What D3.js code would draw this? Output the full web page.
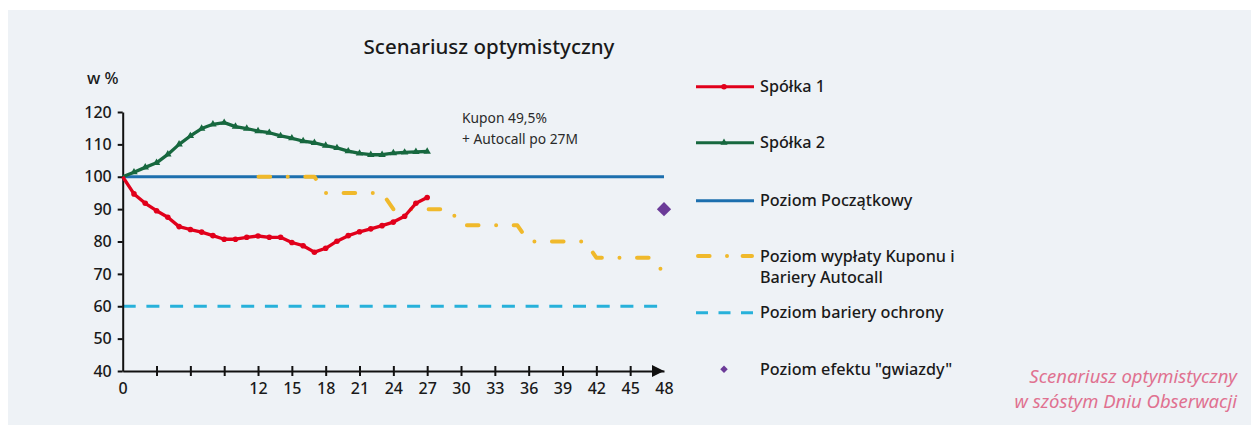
<!DOCTYPE html>
<html>
<head>
<meta charset="utf-8">
<script src="https://cdn.jsdelivr.net/npm/d3@7"></script>
<style>
  body { margin: 0; background: #ffffff; }
  svg { display: block; font-family: "Noto Sans", "Open Sans", sans-serif; }
</style>
</head>
<body>
<svg id="chart"></svg>
<script>
// values, by month
const spolka1 = [100, 94.7, 91.8, 89.5, 87.5, 84.6, 83.7, 82.9, 81.8, 80.7, 80.7, 81.3, 81.7, 81.3,
  81.3, 79.7, 78.7, 76.7, 77.9, 80.1, 81.8, 83, 83.9, 84.9, 86, 87.8, 91.8, 93.6];
const spolka2 = [100, 101.4, 102.9, 104.3, 106.9, 110, 112.6, 114.9, 116.2, 116.7, 115.5, 114.9, 114.1,
  113.6, 112.6, 111.9, 111, 110.5, 109.6, 108.9, 107.9, 107.2, 106.8, 106.8, 107.3, 107.5, 107.7, 107.8];
const kuponStart = 12;
const kupon = [100, 100, 100, 100, 100, 100, 95, 95, 95, 95, 95, 95, 90, 90, 90, 90, 90, 90,
  85, 85, 85, 85, 85, 85, 80, 80, 80, 80, 80, 80, 75, 75, 75, 75, 75, 75, 70];
const poczatkowy = 100;
const ochrona = 60;
const gwiazda = [{m: 48, v: 90}];
const xTicks = d3.range(0, 49, 3);
const xLabels = [0, 12, 15, 18, 21, 24, 27, 30, 33, 36, 39, 42, 45, 48];
const yTicks = [40, 50, 60, 70, 80, 90, 100, 110, 120];
const legendItems = ["Spółka 1", "Spółka 2", "Poziom Początkowy",
  ["Poziom wypłaty Kuponu i", "Bariery Autocall"], "Poziom bariery ochrony", "Poziom efektu \"gwiazdy\""];

const width = 1251, height = 425;
const cRed = "#e1001b", cGreen = "#17683f", cBlue = "#1c6fae", cCyan = "#27b1da",
  cYellow = "#f0b92b", cPurple = "#6b3b98";

const svg = d3.select("#chart").attr("width", width).attr("height", height);

svg.append("rect").attr("x", 8).attr("y", 10).attr("width", width - 8).attr("height", height - 10)
  .attr("fill", "#eef2f6");

const x = d3.scaleLinear().domain([0, 48]).range([122.7, 664]);
const y = d3.scaleLinear().domain([40, 120]).range([371, 112]);

// title
svg.append("text").attr("x", 489).attr("y", 54).attr("text-anchor", "middle")
  .attr("font-size", 20.5).attr("font-weight", 500).attr("fill", "#1a1a1a")
  .text("Scenariusz optymistyczny");
svg.append("text").attr("x", 87).attr("y", 84)
  .attr("font-size", 16.5).attr("font-weight", 500).attr("fill", "#1a1a1a").text("w %");

// reference lines
svg.append("line").attr("x1", x(0)).attr("x2", x(48)).attr("y1", y(ochrona)).attr("y2", y(ochrona))
  .attr("stroke", cCyan).attr("stroke-width", 3).attr("stroke-dasharray", "13,10.7");
svg.append("line").attr("x1", x(0)).attr("x2", x(48)).attr("y1", y(poczatkowy)).attr("y2", y(poczatkowy))
  .attr("stroke", cBlue).attr("stroke-width", 3);

// coupon / autocall level
const kLine = d3.line().x((d, i) => x(kuponStart + i)).y(d => y(d));
svg.append("path").attr("d", kLine(kupon)).attr("fill", "none")
  .attr("stroke", cYellow).attr("stroke-width", 4).attr("stroke-linecap", "round")
  .attr("stroke-linejoin", "round").attr("stroke-dasharray", "11.6,17.6,0,17.55")
  .attr("stroke-dashoffset", -0.5);

// axes
const yAxis = d3.axisLeft(y).tickValues(yTicks).tickSize(5).tickSizeOuter(0).tickPadding(6);
const gy = svg.append("g").attr("transform", `translate(${x(0)},0)`).call(yAxis);
gy.select(".domain").attr("stroke", "#111").attr("stroke-width", 2);
gy.selectAll(".tick line").attr("stroke", "#111").attr("stroke-width", 2);
gy.selectAll(".tick text").attr("font-size", 16).attr("font-weight", 500).attr("fill", "#1a1a1a")
  .attr("font-family", "'Noto Sans', sans-serif");

const xAxis = d3.axisBottom(x).tickValues(xTicks).tickSize(0).tickSizeOuter(0)
  .tickFormat(d => xLabels.includes(d) ? d : "");
const gx = svg.append("g").attr("transform", `translate(0,${y(40)})`).call(xAxis);
gx.select(".domain").attr("stroke", "#111").attr("stroke-width", 2);
gx.selectAll(".tick line").attr("y1", -5).attr("y2", 5).attr("stroke", "#111").attr("stroke-width", 2)
  .filter(d => d === 0 || d === 48).remove();
gx.selectAll(".tick text").attr("y", 12).attr("font-size", 16).attr("font-weight", 500)
  .attr("fill", "#1a1a1a").attr("font-family", "'Noto Sans', sans-serif");
svg.append("path")
  .attr("d", `M${x(48) - 12},${y(40) - 6}L${x(48)},${y(40)}L${x(48) - 12},${y(40) + 6}Z`)
  .attr("fill", "#111");

// company series
const line = d3.line().x((d, i) => x(i)).y(d => y(d));
svg.append("path").attr("d", line(spolka2)).attr("fill", "none").attr("stroke", cGreen)
  .attr("stroke-width", 3.3).attr("stroke-linejoin", "round");
svg.append("g").selectAll("path").data(spolka2.slice(1)).join("path")
  .attr("d", d3.symbol(d3.symbolTriangle, 24))
  .attr("transform", (d, i) => `translate(${x(i + 1)},${y(d)})`).attr("fill", cGreen);

svg.append("path").attr("d", line(spolka1)).attr("fill", "none").attr("stroke", cRed)
  .attr("stroke-width", 3.3).attr("stroke-linejoin", "round");
svg.append("g").selectAll("circle").data(spolka1.slice(1)).join("circle")
  .attr("cx", (d, i) => x(i + 1)).attr("cy", d => y(d)).attr("r", 2.8).attr("fill", cRed);

svg.selectAll(".star").data(gwiazda).join("path").attr("class", "star")
  .attr("d", d3.symbol(d3.symbolDiamond2, 130))
  .attr("transform", d => `translate(${x(d.m)},${y(d.v)})`).attr("fill", cPurple);

// annotation
const ann = svg.append("text").attr("font-size", 13.8).attr("fill", "#2a2a2a");
ann.append("tspan").attr("x", 462).attr("y", 123).text("Kupon 49,5%");
ann.append("tspan").attr("x", 462).attr("y", 144).text("+ Autocall po 27M");

// legend
const lx0 = 696, lx1 = 754, tx = 760;
const ly = [86.7, 142.7, 200.7, 256, 312.7, 369.3];
svg.append("line").attr("x1", lx0).attr("x2", lx1).attr("y1", ly[0]).attr("y2", ly[0])
  .attr("stroke", cRed).attr("stroke-width", 3);
svg.append("circle").attr("cx", 724).attr("cy", ly[0]).attr("r", 2.8).attr("fill", cRed);
svg.append("line").attr("x1", lx0).attr("x2", lx1).attr("y1", ly[1]).attr("y2", ly[1])
  .attr("stroke", cGreen).attr("stroke-width", 3);
svg.append("path").attr("d", d3.symbol(d3.symbolTriangle, 22))
  .attr("transform", `translate(724,${ly[1]})`).attr("fill", cGreen);
svg.append("line").attr("x1", lx0).attr("x2", lx1).attr("y1", ly[2]).attr("y2", ly[2])
  .attr("stroke", cBlue).attr("stroke-width", 3);
svg.append("line").attr("x1", lx0 + 2).attr("x2", lx1 - 2).attr("y1", ly[3]).attr("y2", ly[3])
  .attr("stroke", cYellow).attr("stroke-width", 4).attr("stroke-linecap", "round")
  .attr("stroke-dasharray", "11.6,17.4,0,15.6");
svg.append("line").attr("x1", lx0).attr("x2", lx1).attr("y1", ly[4]).attr("y2", ly[4])
  .attr("stroke", cCyan).attr("stroke-width", 3).attr("stroke-dasharray", "12,10.5");
svg.append("path").attr("d", d3.symbol(d3.symbolDiamond2, 36))
  .attr("transform", `translate(724,${ly[5]})`).attr("fill", cPurple);

legendItems.forEach((t, i) => {
  const lines = Array.isArray(t) ? t : [t];
  const txt = svg.append("text").attr("font-size", 16.2).attr("font-weight", 500).attr("fill", "#1a1a1a");
  lines.forEach((s, j) => {
    txt.append("tspan").attr("x", tx).attr("y", ly[i] + 5.5 + j * 21).text(s);
  });
});

// caption
const cap = svg.append("text").attr("text-anchor", "end").attr("font-size", 18.5)
  .attr("font-style", "italic").attr("fill", "#e07190");
cap.append("tspan").attr("x", 1237).attr("y", 383).text("Scenariusz optymistyczny");
cap.append("tspan").attr("x", 1237).attr("y", 408).text("w szóstym Dniu Obserwacji");
</script>
</body>
</html>
